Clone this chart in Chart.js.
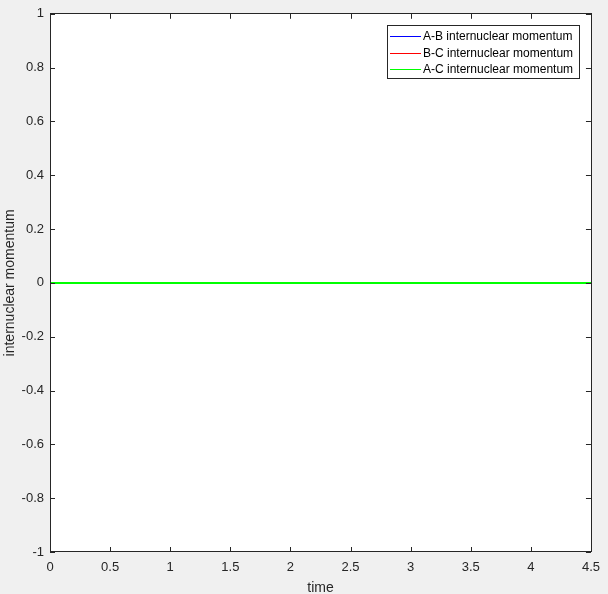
<!DOCTYPE html>
<html>
<head>
<meta charset="utf-8">
<script src="https://cdn.jsdelivr.net/npm/chart.js@4"></script>
<style>
  html, body { margin: 0; padding: 0; background: #f0f0f0; }
  #wrap { width: 608px; height: 594px; }
</style>
</head>
<body>
<div id="wrap"><canvas id="myChart" width="608" height="594"></canvas></div>
<script>
// datos: las tres series valen 0 en todo el intervalo
const tiempo = [0, 0.5, 1, 1.5, 2, 2.5, 3, 3.5, 4, 4.5];
const momentoAB = [0, 0, 0, 0, 0, 0, 0, 0, 0, 0];
const momentoBC = [0, 0, 0, 0, 0, 0, 0, 0, 0, 0];
const momentoAC = [0, 0, 0, 0, 0, 0, 0, 0, 0, 0];
const etiquetas = ['A-B internuclear momentum', 'B-C internuclear momentum', 'A-C internuclear momentum'];
const colores = ['#0000ff', '#ff0000', '#00ff00'];
const xTicks = [0, 0.5, 1, 1.5, 2, 2.5, 3, 3.5, 4, 4.5];
const yTicks = [-1, -0.8, -0.6, -0.4, -0.2, 0, 0.2, 0.4, 0.6, 0.8, 1];

document.addEventListener('DOMContentLoaded', function() {
  const ctx = document.getElementById('myChart');
  const ejeColor = '#262626';

  function puntos(ys) {
    return tiempo.map((t, i) => ({x: t, y: ys[i]}));
  }

  // fondo gris y area blanca, como la figura de MATLAB
  const fondo = {
    id: 'fondo',
    beforeDraw(chart) {
      const c = chart.ctx, a = chart.chartArea;
      c.save();
      c.fillStyle = '#f0f0f0';
      c.fillRect(0, 0, chart.width, chart.height);
      c.fillStyle = '#ffffff';
      c.fillRect(a.left, a.top, a.right - a.left, a.bottom - a.top);
      c.restore();
    }
  };

  // caja, marcas hacia dentro y leyenda
  const caja = {
    id: 'caja',
    afterDraw(chart) {
      const c = chart.ctx, a = chart.chartArea;
      const sx = chart.scales.x, sy = chart.scales.y;
      const tl = 5;
      c.save();
      c.strokeStyle = ejeColor;
      c.lineWidth = 1;
      c.beginPath();
      sx.ticks.forEach(t => {
        const px = Math.round(sx.getPixelForValue(t.value)) + 0.5;
        c.moveTo(px, a.bottom); c.lineTo(px, a.bottom - tl);
        c.moveTo(px, a.top); c.lineTo(px, a.top + tl);
      });
      sy.ticks.forEach(t => {
        const py = Math.round(sy.getPixelForValue(t.value)) + 0.5;
        c.moveTo(a.left, py); c.lineTo(a.left + tl, py);
        c.moveTo(a.right, py); c.lineTo(a.right - tl, py);
      });
      c.stroke();
      c.strokeRect(Math.round(a.left) + 0.5, Math.round(a.top) - 0.5,
                   Math.round(a.right - a.left), Math.round(a.bottom - a.top));

      // leyenda
      const lx = 387.5, ly = 25.5, lw = 192, lh = 53;
      c.fillStyle = '#ffffff';
      c.fillRect(lx, ly, lw, lh);
      c.strokeStyle = ejeColor;
      c.strokeRect(lx, ly, lw, lh);
      c.font = '12px "Liberation Sans", Arial, sans-serif';
      c.textBaseline = 'middle';
      c.textAlign = 'left';
      chart.data.datasets.forEach((ds, i) => {
        const y = Math.round(36 + i * 16.5) + 0.5;
        c.strokeStyle = ds.borderColor;
        c.beginPath();
        c.moveTo(390, y); c.lineTo(421, y);
        c.stroke();
        c.fillStyle = '#000000';
        c.fillText(ds.label, 423, y);
      });
      c.restore();
    }
  };

  new Chart(ctx, {
    type: 'line',
    data: {
      datasets: [
        {label: etiquetas[0], data: puntos(momentoAB), borderColor: colores[0], borderWidth: 1, pointRadius: 0, order: 2},
        {label: etiquetas[1], data: puntos(momentoBC), borderColor: colores[1], borderWidth: 1, pointRadius: 0, order: 1},
        {label: etiquetas[2], data: puntos(momentoAC), borderColor: colores[2], borderWidth: 2, pointRadius: 0, order: 0}
      ]
    },
    options: {
      responsive: false,
      animation: false,
      events: [],
      layout: { padding: { left: 0, right: 17, top: 13, bottom: 0 } },
      plugins: {
        legend: { display: false },
        tooltip: { enabled: false }
      },
      scales: {
        x: {
          type: 'linear',
          min: 0,
          max: 4.5,
          afterFit(scale) { scale.height = 42; },
          afterBuildTicks(scale) { scale.ticks = xTicks.map(v => ({value: v})); },
          grid: { display: false, drawTicks: false },
          border: { display: false },
          ticks: {
            padding: 8,
            color: ejeColor,
            font: { family: '"Liberation Sans", Arial, sans-serif', size: 13 },
            maxRotation: 0,
            autoSkip: false,
            callback: v => String(Number(v.toFixed(1)))
          },
          title: {
            display: true,
            text: 'time',
            color: ejeColor,
            padding: { top: 0, bottom: -1 },
            font: { family: '"Liberation Sans", Arial, sans-serif', size: 14, lineHeight: 1 }
          }
        },
        y: {
          type: 'linear',
          min: -1,
          max: 1,
          afterFit(scale) { scale.width = 50; },
          afterBuildTicks(scale) { scale.ticks = yTicks.map(v => ({value: v})); },
          grid: { display: false, drawTicks: false },
          border: { display: false },
          ticks: {
            padding: 6,
            color: ejeColor,
            font: { family: '"Liberation Sans", Arial, sans-serif', size: 13 },
            autoSkip: false,
            callback: v => String(Number(v.toFixed(1)))
          },
          title: {
            display: true,
            text: 'internuclear momentum',
            color: ejeColor,
            padding: { top: 2, bottom: 0 },
            font: { family: '"Liberation Sans", Arial, sans-serif', size: 14, lineHeight: 1.2 }
          }
        }
      }
    },
    plugins: [fondo, caja]
  });
});
</script>
</body>
</html>
